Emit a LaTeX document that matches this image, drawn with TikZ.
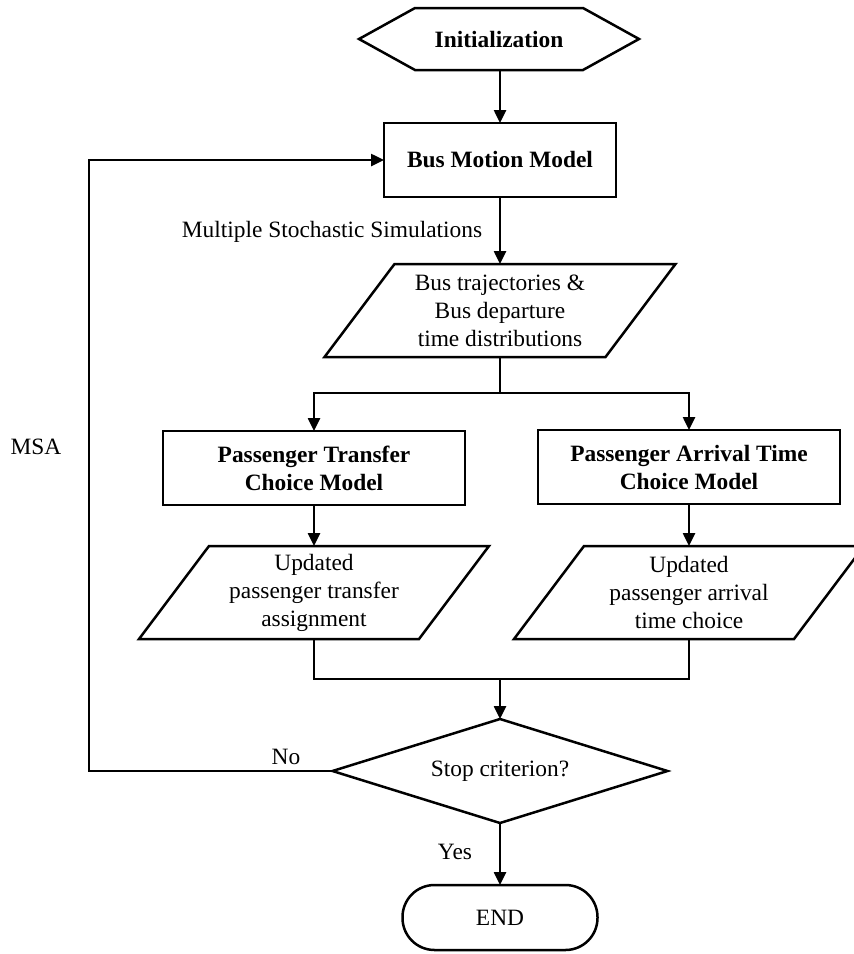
\documentclass[tikz,border=0pt]{standalone}
\usepackage{fontspec}
\setmainfont{Liberation Serif}
\usetikzlibrary{arrows.meta,shapes.geometric,calc}
\newcommand\drawpara[2]{%
  \draw[line] ($(#1.south west)+(-#2,0)$) -- ($(#1.north west)+(#2,0)$) --
    ($(#1.north east)+(#2,0)$) -- ($(#1.south east)+(-#2,0)$) -- cycle;}
\begin{document}
\begin{tikzpicture}[x=1pt,y=-1pt,
  every node/.style={font=\fontsize{23.4}{28}\selectfont, inner sep=0pt, outer sep=0pt, align=center},
  bold/.style={font=\fontsize{23.4}{28}\selectfont\bfseries},
  line/.style={line width=2.5pt, line join=miter},
  arr/.style={line, -{Triangle[length=13pt,width=12pt]}},
  box/.style={draw, line, rectangle, minimum width=#1, minimum height=74pt},
  ghost/.style={minimum width=#1, minimum height=93pt},
  hexghost/.style={minimum width=168pt, minimum height=62pt}
]
\clip (0,0) rectangle (854,954);
% nodes
\node[hexghost, bold] (init) at (499,39) {Initialization};
\draw[line] ($(init.west)+(-56,0)$) -- (init.north west) -- (init.north east) --
  ($(init.east)+(56,0)$) -- (init.south east) -- (init.south west) -- cycle;
\node[box=232pt, bold] (bm) at (500,160) {Bus Motion Model};
\node (mss) at (332,232) {Multiple Stochastic Simulations};
\node[ghost=281pt] (bt) at (500,310.5) {Bus trajectories \&\\Bus departure\\time distributions};
\drawpara{bt}{35}
\coordinate (split) at (500,393);
\node[box=302pt, bold] (pt) at (314,468) {Passenger Transfer\\Choice Model};
\node[box=302pt, bold] (pa) at (689,467) {Passenger Arrival Time\\Choice Model};
\node[ghost=280pt] (ut) at (314,592.5) {Updated\\passenger transfer\\assignment};
\drawpara{ut}{35}
\node[ghost=280pt] (ua) at (689,592.5) {Updated\\passenger arrival\\time choice};
\drawpara{ua}{35}
\coordinate (mrg) at (500,679);
\node[diamond, draw, line, aspect=3.2, minimum width=335pt, minimum height=104pt] (stop) at (500,771) {Stop criterion?};
\node[draw, line, rounded corners=32pt, minimum width=195pt, minimum height=65pt] (end) at (500,917.5) {END};
\coordinate (lp1) at (89,771);
\coordinate (lp2) at (89,160);
% labels
\node (no) at (286,757) {No};
\node (yes) at (455,852) {Yes};
\node (msa) at (36,447) {MSA};
% connectors
\draw[arr] (init.south -| bm.north) -- (bm.north);
\draw[arr] (bm.south) -- (bt.north);
\draw[line] (bt.south) -- (split);
\draw[arr] (split) -| (pt.north);
\draw[arr] (split) -| (pa.north);
\draw[arr] (pt.south) -- (ut.north);
\draw[arr] (pa.south) -- (ua.north);
\draw[line] (ut.south) |- (mrg);
\draw[line] (ua.south) |- (mrg);
\draw[arr] (mrg) -- (stop.north);
\draw[arr] (stop.south) -- (end.north);
\draw[arr] (stop.west) -- (lp1) -- (lp2) -- (bm.west);
\end{tikzpicture}
\end{document}
